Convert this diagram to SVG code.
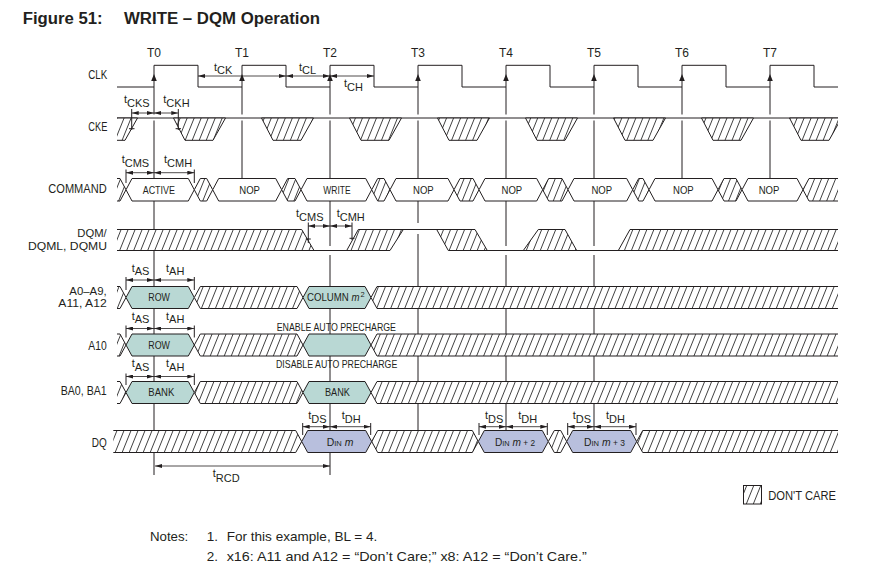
<svg xmlns="http://www.w3.org/2000/svg" width="880" height="564" viewBox="0 0 880 564">
<style>
.s{fill:none;stroke:#231f20;stroke-width:1}
.hn{fill:url(#hatch);stroke:none}
.h{fill:url(#hatch);stroke:#231f20;stroke-width:1}
.v{fill:#fff;stroke:#231f20;stroke-width:1}
.teal{fill:#b9d8d4;stroke:#231f20;stroke-width:1}
.blue{fill:#b8bfdd;stroke:#231f20;stroke-width:1}
text{font-family:"Liberation Sans",Arial,sans-serif;fill:#231f20}
.lb{font-size:12px}
.hx{font-size:11px}
.tm{font-size:11px}
.dim{stroke:#231f20;stroke-width:0.8;fill:none}
</style>
<defs>
<pattern id="hatch" patternUnits="userSpaceOnUse" width="6.5" height="10" patternTransform="rotate(22)">
<rect width="6.5" height="10" fill="#fff"/>
<line x1="3.25" y1="0" x2="3.25" y2="10" stroke="#333" stroke-width="0.9"/>
</pattern>
<marker id="ah" viewBox="0 0 7 4" refX="7" refY="2" markerWidth="7" markerHeight="4" markerUnits="userSpaceOnUse" orient="auto-start-reverse">
<path d="M0,0 L7,2 L0,4 z" fill="#231f20"/>
</marker>
<clipPath id="ckeclip"><rect x="117" y="100" width="721" height="50"/></clipPath>
</defs>

<g id="title">
<text x="22.7" y="23.5" font-size="16" font-weight="bold" textLength="80" lengthAdjust="spacingAndGlyphs">Figure 51:</text>
<text x="124" y="23.5" font-size="16" font-weight="bold" textLength="196" lengthAdjust="spacingAndGlyphs">WRITE – DQM Operation</text>
</g>

<g id="labels" class="lb">
<text x="88.3" y="79" textLength="19" lengthAdjust="spacingAndGlyphs">CLK</text>
<text x="88.3" y="130.5" textLength="19" lengthAdjust="spacingAndGlyphs">CKE</text>
<text x="48.3" y="192.7" textLength="58.4" lengthAdjust="spacingAndGlyphs">COMMAND</text>
<text x="77.3" y="236.5" font-size="11.5" textLength="29.4" lengthAdjust="spacingAndGlyphs">DQM/</text>
<text x="28" y="250" font-size="11.5" textLength="79" lengthAdjust="spacingAndGlyphs">DQML, DQMU</text>
<text x="69.3" y="294.5" font-size="11" textLength="37.4" lengthAdjust="spacingAndGlyphs">A0–A9,</text>
<text x="58.3" y="307" font-size="11" textLength="48.4" lengthAdjust="spacingAndGlyphs">A11, A12</text>
<text x="88.3" y="350" textLength="18.4" lengthAdjust="spacingAndGlyphs">A10</text>
<text x="60.7" y="395" textLength="46" lengthAdjust="spacingAndGlyphs">BA0, BA1</text>
<text x="91.7" y="446.7" textLength="15" lengthAdjust="spacingAndGlyphs">DQ</text>
</g>

<g id="tlabels" class="lb" text-anchor="middle">
<text x="154" y="57.3">T0</text>
<text x="242" y="57.3">T1</text>
<text x="330" y="57.3">T2</text>
<text x="418" y="57.3">T3</text>
<text x="506" y="57.3">T4</text>
<text x="594" y="57.3">T5</text>
<text x="682" y="57.3">T6</text>
<text x="770" y="57.3">T7</text>
</g>

<g id="gridlines" class="s">
<path d="M154,87 V114.5 M154,120.5 V475"/>
<path d="M242,87 V114.5 M242,120.5 V178.5"/>
<path d="M330,87 V114.5 M330,120.5 V246 M330,255 V475"/>
<path d="M418,87 V114.5 M418,120.5 V223 M418,234 V430.5"/>
<path d="M506,87 V114.5 M506,120.5 V246 M506,255 V430.5"/>
<path d="M594,87 V114.5 M594,120.5 V246 M594,255 V430.5"/>
<path d="M682,87 V114.5 M682,120.5 V178.5"/>
<path d="M770,87 V114.5 M770,120.5 V178.5"/>
</g>

<g id="clk">
<path class="s" d="M117,87 H154 V65.3 H198 V87 H242 V65.3 H286 V87 H330 V65.3 H374 V87 H418 V65.3 H462 V87 H506 V65.3 H550 V87 H594 V65.3 H638 V87 H682 V65.3 H726 V87 H770 V65.3 H814 V87 H838"/>
<g fill="#231f20">
<polygon points="154,74 151.2,81 156.8,81"/>
<polygon points="242,74 239.2,81 244.8,81"/>
<polygon points="330,74 327.2,81 332.8,81"/>
<polygon points="418,74 415.2,81 420.8,81"/>
<polygon points="506,74 503.2,81 508.8,81"/>
<polygon points="594,74 591.2,81 596.8,81"/>
<polygon points="682,74 679.2,81 684.8,81"/>
<polygon points="770,74 767.2,81 772.8,81"/>
</g>
</g>

<g id="cke">
<line x1="117" y1="118" x2="838" y2="118" class="s"/>
<g clip-path="url(#ckeclip)">
<polygon class="h" points="85.5,118 137.5,118 125,140.3 97,140.3"/>
<polygon class="h" points="173.5,118 225.5,118 213,140.3 185,140.3"/>
<polygon class="h" points="261.5,118 313.5,118 301,140.3 273,140.3"/>
<polygon class="h" points="349.5,118 401.5,118 389,140.3 361,140.3"/>
<polygon class="h" points="437.5,118 489.5,118 477,140.3 449,140.3"/>
<polygon class="h" points="525.5,118 577.5,118 565,140.3 537,140.3"/>
<polygon class="h" points="613.5,118 665.5,118 653,140.3 625,140.3"/>
<polygon class="h" points="701.5,118 753.5,118 741,140.3 713,140.3"/>
<polygon class="h" points="789.5,118 841.5,118 829,140.3 801,140.3"/>
</g>
</g>

<g id="command">
<polygon class="hn" points="117,178.5 120,178.5 126,189.75 120,201 117,201"/>
<polyline class="s" points="117,178.5 120,178.5 126,189.75 120,201 117,201"/>
<polygon class="v" points="126,189.75 132,178.5 188.3,178.5 194.3,189.75 188.3,201 132,201"/>
<polygon class="h" points="194.3,189.75 200.3,178.5 206.7,178.5 212.7,189.75 206.7,201 200.3,201"/>
<polygon class="v" points="212.7,189.75 218.7,178.5 275.7,178.5 281.7,189.75 275.7,201 218.7,201"/>
<polygon class="h" points="281.7,189.75 287.7,178.5 295,178.5 301,189.75 295,201 287.7,201"/>
<polygon class="v" points="301,189.75 307,178.5 365.7,178.5 371.7,189.75 365.7,201 307,201"/>
<polygon class="h" points="371.7,189.75 377.7,178.5 384,178.5 390,189.75 384,201 377.7,201"/>
<polygon class="v" points="390,189.75 396,178.5 448,178.5 454,189.75 448,201 396,201"/>
<polygon class="h" points="454,189.75 460,178.5 473,178.5 479,189.75 473,201 460,201"/>
<polygon class="v" points="479,189.75 485,178.5 536.7,178.5 542.7,189.75 536.7,201 485,201"/>
<polygon class="h" points="542.7,189.75 548.7,178.5 562,178.5 568,189.75 562,201 548.7,201"/>
<polygon class="v" points="568,189.75 574,178.5 626.7,178.5 632.7,189.75 626.7,201 574,201"/>
<polygon class="h" points="632.7,189.75 638.7,178.5 643,178.5 649,189.75 643,201 638.7,201"/>
<polygon class="v" points="649,189.75 655,178.5 712,178.5 718,189.75 712,201 655,201"/>
<polygon class="h" points="718,189.75 724,178.5 736,178.5 742,189.75 736,201 724,201"/>
<polygon class="v" points="742,189.75 748,178.5 797,178.5 803,189.75 797,201 748,201"/>
<polygon class="hn" points="803,189.75 809,178.5 838,178.5 838,201 809,201"/>
<polyline class="s" points="838,178.5 809,178.5 803,189.75 809,201 838,201"/>
<g class="hx">
<text x="142.7" y="193.5" textLength="32.3" lengthAdjust="spacingAndGlyphs">ACTIVE</text>
<text x="239.3" y="193.5" textLength="20.7" lengthAdjust="spacingAndGlyphs">NOP</text>
<text x="323.3" y="193.5" textLength="27.4" lengthAdjust="spacingAndGlyphs">WRITE</text>
<text x="413" y="193.5" textLength="20.7" lengthAdjust="spacingAndGlyphs">NOP</text>
<text x="501.5" y="193.5" textLength="20.7" lengthAdjust="spacingAndGlyphs">NOP</text>
<text x="591.4" y="193.5" textLength="20.7" lengthAdjust="spacingAndGlyphs">NOP</text>
<text x="673" y="193.5" textLength="20.7" lengthAdjust="spacingAndGlyphs">NOP</text>
<text x="758.7" y="193.5" textLength="20.7" lengthAdjust="spacingAndGlyphs">NOP</text>
</g>
</g>

<g id="dqm">
<polygon class="hn" points="117,229.5 301.7,229.5 314,250.5 117,250.5"/>
<polygon class="hn" points="346.7,250.5 358.3,229.5 403.3,229.5 390,250.5"/>
<polygon class="hn" points="436.7,229.5 475,229.5 487.3,250.5 448.3,250.5"/>
<polygon class="hn" points="523.3,250.5 538.3,229.5 565,229.5 576.7,250.5"/>
<polygon class="hn" points="618.3,250.5 630,229.5 838,229.5 838,250.5"/>
<path class="s" d="M117,229.5 H301.7 L314,250.5 M117,250.5 H390 M346.7,250.5 L358.3,229.5 H475 L487.3,250.5 M390,250.5 L403.3,229.5 M436.7,229.5 L448.3,250.5 H838 M523.3,250.5 L538.3,229.5 H565 L576.7,250.5 M618.3,250.5 L630,229.5 H838"/>
</g>

<g id="addr">
<polygon class="hn" points="117,286.5 120,286.5 126,297.5 120,308.5 117,308.5"/>
<polyline class="s" points="117,286.5 120,286.5 126,297.5 120,308.5 117,308.5"/>
<polygon class="teal" points="126,297.5 132,286.5 188.3,286.5 194.3,297.5 188.3,308.5 132,308.5"/>
<polygon class="h" points="194.3,297.5 200.3,286.5 297,286.5 303,297.5 297,308.5 200.3,308.5"/>
<polygon class="teal" points="303,297.5 309,286.5 365,286.5 371,297.5 365,308.5 309,308.5"/>
<polygon class="hn" points="371,297.5 377,286.5 838,286.5 838,308.5 377,308.5"/>
<polyline class="s" points="838,286.5 377,286.5 371,297.5 377,308.5 838,308.5"/>
<text class="hx" x="148.3" y="301.3" textLength="21.7" lengthAdjust="spacingAndGlyphs">ROW</text>
<text class="hx" x="307" y="301.3" textLength="52.5" lengthAdjust="spacingAndGlyphs">COLUMN <tspan font-style="italic">m</tspan></text>
<text x="360.6" y="296.6" font-size="7.5">2</text>
</g>

<g id="a10">
<polygon class="hn" points="117,334 120,334 126,345 120,356 117,356"/>
<polyline class="s" points="117,334 120,334 126,345 120,356 117,356"/>
<polygon class="teal" points="126,345 132,334 188.3,334 194.3,345 188.3,356 132,356"/>
<polygon class="h" points="194.3,345 200.3,334 297,334 303,345 297,356 200.3,356"/>
<polygon class="teal" points="303,345 309,334 365,334 371,345 365,356 309,356"/>
<polygon class="hn" points="371,345 377,334 838,334 838,356 377,356"/>
<polyline class="s" points="838,334 377,334 371,345 377,356 838,356"/>
<text class="hx" x="148.3" y="348.8" textLength="21.7" lengthAdjust="spacingAndGlyphs">ROW</text>
<text class="hx" x="276.7" y="331" textLength="119.3" lengthAdjust="spacingAndGlyphs">ENABLE AUTO PRECHARGE</text>
<text class="hx" x="276" y="368.3" textLength="121.3" lengthAdjust="spacingAndGlyphs">DISABLE AUTO PRECHARGE</text>
</g>

<g id="ba">
<polygon class="hn" points="117,381.5 120,381.5 126,392.5 120,403.5 117,403.5"/>
<polyline class="s" points="117,381.5 120,381.5 126,392.5 120,403.5 117,403.5"/>
<polygon class="teal" points="126,392.5 132,381.5 188.3,381.5 194.3,392.5 188.3,403.5 132,403.5"/>
<polygon class="h" points="194.3,392.5 200.3,381.5 297,381.5 303,392.5 297,403.5 200.3,403.5"/>
<polygon class="teal" points="303,392.5 309,381.5 365,381.5 371,392.5 365,403.5 309,403.5"/>
<polygon class="hn" points="371,392.5 377,381.5 838,381.5 838,403.5 377,403.5"/>
<polyline class="s" points="838,381.5 377,381.5 371,392.5 377,403.5 838,403.5"/>
<text class="hx" x="148.3" y="396.3" textLength="26" lengthAdjust="spacingAndGlyphs">BANK</text>
<text class="hx" x="325" y="396.3" textLength="25" lengthAdjust="spacingAndGlyphs">BANK</text>
</g>

<g id="dq">
<polygon class="hn" points="113.3,430.5 295.7,430.5 301.7,441.5 295.7,452.5 113.3,452.5"/>
<polyline class="s" points="113.3,430.5 295.7,430.5 301.7,441.5 295.7,452.5 113.3,452.5"/>
<polygon class="blue" points="301.7,441.5 307.7,430.5 365.7,430.5 371.7,441.5 365.7,452.5 307.7,452.5"/>
<polygon class="h" points="371.7,441.5 377.7,430.5 472.3,430.5 478.3,441.5 472.3,452.5 377.7,452.5"/>
<polygon class="blue" points="478.3,441.5 484.3,430.5 542.3,430.5 548.3,441.5 542.3,452.5 484.3,452.5"/>
<polygon class="h" points="548.3,441.5 554.3,430.5 560.7,430.5 566.7,441.5 560.7,452.5 554.3,452.5"/>
<polygon class="blue" points="566.7,441.5 572.7,430.5 630.7,430.5 636.7,441.5 630.7,452.5 572.7,452.5"/>
<polygon class="hn" points="636.7,441.5 642.7,430.5 838,430.5 838,452.5 642.7,452.5"/>
<polyline class="s" points="838,430.5 642.7,430.5 636.7,441.5 642.7,452.5 838,452.5"/>
<g font-size="11">
<text x="326.7" y="445.7" textLength="26.7" lengthAdjust="spacingAndGlyphs">D<tspan font-size="8">IN</tspan> <tspan font-style="italic">m</tspan></text>
<text x="495" y="445.7" textLength="40" lengthAdjust="spacingAndGlyphs">D<tspan font-size="8">IN</tspan> <tspan font-style="italic">m</tspan><tspan font-size="9"> + 2</tspan></text>
<text x="584" y="445.7" textLength="41" lengthAdjust="spacingAndGlyphs">D<tspan font-size="8">IN</tspan> <tspan font-style="italic">m</tspan><tspan font-size="9"> + 3</tspan></text>
</g>
</g>

<g id="extlines" class="s" stroke-width="0.9">
<path d="M131.7,109 V130 M129,128.7 H134.5 M178.3,109 V130 M175.6,128.7 H181"/>
<path d="M126,169.5 V183 M194.3,169.5 V183"/>
<path d="M308.3,222.5 V243 M305.8,239 H310.8 M352,222.5 V240 M349.5,238.3 H354.5"/>
<path d="M126,277 V290 M194.3,277 V290 M126,325.5 V337.5 M194.3,325.5 V337.5 M126,373.5 V385 M194.3,373.5 V385"/>
<path d="M302.7,423 V435 M370.7,423 V435 M479,423 V435 M547.3,423 V435 M567.7,423 V435 M636,423 V435"/>
</g>

<g id="connectors" class="dim" marker-start="url(#ah)" marker-end="url(#ah)">
<line x1="198" y1="76" x2="286" y2="76"/>
<line x1="286" y1="76" x2="330" y2="76"/>
<line x1="330" y1="76" x2="374" y2="76"/>
<line x1="131.7" y1="113" x2="154" y2="113"/>
<line x1="154" y1="113" x2="178.3" y2="113"/>
<line x1="126" y1="172.7" x2="154" y2="172.7"/>
<line x1="154" y1="172.7" x2="194.3" y2="172.7"/>
<line x1="308.3" y1="226" x2="330" y2="226"/>
<line x1="330" y1="226" x2="352" y2="226"/>
<line x1="126" y1="280" x2="154" y2="280"/>
<line x1="154" y1="280" x2="194.3" y2="280"/>
<line x1="126" y1="328.5" x2="154" y2="328.5"/>
<line x1="154" y1="328.5" x2="194.3" y2="328.5"/>
<line x1="126" y1="376.5" x2="154" y2="376.5"/>
<line x1="154" y1="376.5" x2="194.3" y2="376.5"/>
<line x1="302.7" y1="426.7" x2="330" y2="426.7"/>
<line x1="330" y1="426.7" x2="370.7" y2="426.7"/>
<line x1="479" y1="426.7" x2="506" y2="426.7"/>
<line x1="506" y1="426.7" x2="547.3" y2="426.7"/>
<line x1="567.7" y1="426.7" x2="594" y2="426.7"/>
<line x1="594" y1="426.7" x2="636" y2="426.7"/>
<line x1="155" y1="466" x2="330" y2="466"/>
</g>

<g id="timing-labels" class="tm">
<text x="214" y="70.5">t<tspan dy="3.8">CK</tspan></text>
<text x="299" y="70.5">t<tspan dy="3.8">CL</tspan></text>
<text x="344" y="86.7">t<tspan dy="3.8">CH</tspan></text>
<text x="124" y="103">t<tspan dy="3.8">CKS</tspan></text>
<text x="163.3" y="103">t<tspan dy="3.8">CKH</tspan></text>
<text x="121.7" y="163">t<tspan dy="3.8">CMS</tspan></text>
<text x="164" y="163">t<tspan dy="3.8">CMH</tspan></text>
<text x="296" y="217">t<tspan dy="3.8">CMS</tspan></text>
<text x="336.7" y="217">t<tspan dy="3.8">CMH</tspan></text>
<text x="131.7" y="271.5">t<tspan dy="3.8">AS</tspan></text>
<text x="166" y="271.5">t<tspan dy="3.8">AH</tspan></text>
<text x="131.7" y="319.5">t<tspan dy="3.8">AS</tspan></text>
<text x="166" y="319.5">t<tspan dy="3.8">AH</tspan></text>
<text x="131.7" y="367">t<tspan dy="3.8">AS</tspan></text>
<text x="166" y="367">t<tspan dy="3.8">AH</tspan></text>
<text x="308.3" y="419">t<tspan dy="3.8">DS</tspan></text>
<text x="341.7" y="419">t<tspan dy="3.8">DH</tspan></text>
<text x="485" y="419">t<tspan dy="3.8">DS</tspan></text>
<text x="518.3" y="419">t<tspan dy="3.8">DH</tspan></text>
<text x="572.7" y="419">t<tspan dy="3.8">DS</tspan></text>
<text x="606" y="419">t<tspan dy="3.8">DH</tspan></text>
<text x="212.7" y="477">t<tspan dy="4.5">RCD</tspan></text>
</g>

<g id="legend">
<rect x="743.5" y="485.5" width="18" height="18.5" class="h"/>
<text x="768.3" y="500" font-size="12" textLength="67.7" lengthAdjust="spacingAndGlyphs">DON'T CARE</text>
</g>

<g id="notes" font-size="13.5">
<text x="150" y="540.5" textLength="38.3" lengthAdjust="spacingAndGlyphs">Notes:</text>
<text x="206.7" y="540.5">1.</text>
<text x="226.7" y="540.5" textLength="150.6" lengthAdjust="spacingAndGlyphs">For this example, BL = 4.</text>
<text x="206.7" y="561">2.</text>
<text x="226.7" y="561" textLength="360" lengthAdjust="spacingAndGlyphs">x16: A11 and A12 = “Don’t Care;” x8: A12 = “Don’t Care.”</text>
</g>
</svg>
